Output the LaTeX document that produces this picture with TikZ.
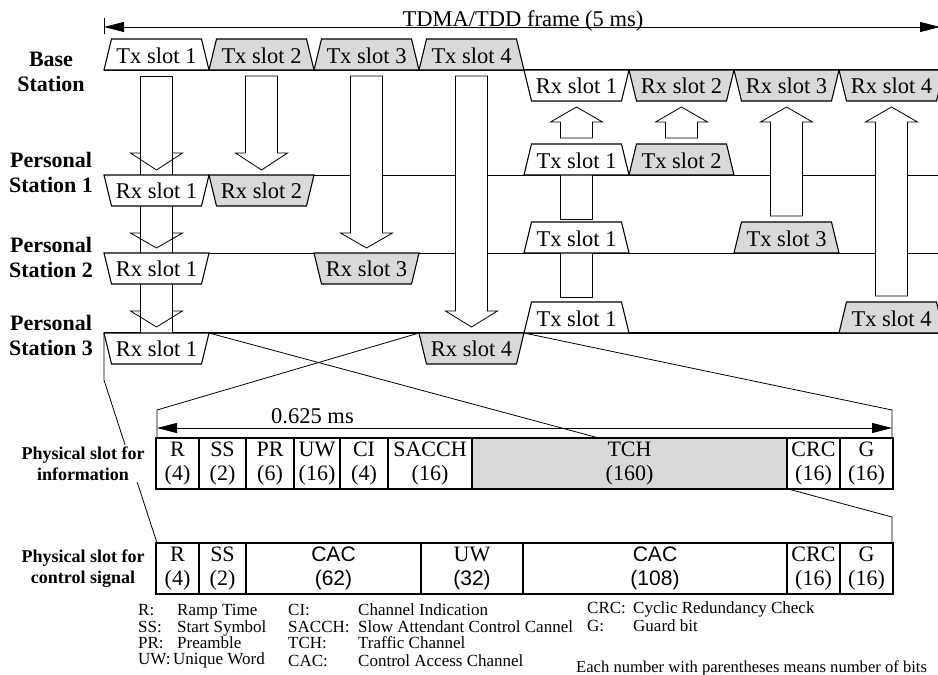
\documentclass[tikz,border=0pt]{standalone}
\usepackage{fontspec}
\setmainfont{Liberation Serif}
\newfontfamily\sansf{Liberation Sans}
\usetikzlibrary{arrows.meta}
\definecolor{slotgray}{gray}{0.85}
\tikzset{
  slotshape/.style={draw, line width=1.1pt, line join=miter},
  slottext/.style={font=\fontsize{22.5}{24}\selectfont, inner sep=0pt, anchor=base},
  blk/.style={draw, fill=white, line width=0.8pt, line join=miter},
  blkline/.style={draw, line width=0.8pt, line join=miter},
  thickst/.style={line width=1.4pt},
  thinst/.style={line width=0.8pt},
  zl/.style={line width=0.8pt},
  dimarrow/.style={line width=0.8pt, {Triangle[length=20pt,width=10pt]}-{Triangle[length=20pt,width=10pt]}},
  bigtext/.style={font=\fontsize{22.5}{24}\selectfont, inner sep=0pt},
  stlabel/.style={font=\fontsize{22}{24.5}\selectfont\bfseries, align=center, inner sep=0pt},
  tablabel/.style={font=\fontsize{18}{21}\selectfont\bfseries, align=center, inner sep=2pt, fill=white},
  cellbox/.style={draw, line width=1.2pt},
  celltext/.style={font=\fontsize{22}{23.5}\selectfont, align=center, inner sep=0pt},
  celltextsf/.style={font=\fontsize{21}{23.5}\selectfont\sansf, align=center, inner sep=0pt},
  legend/.style={font=\fontsize{17}{18}\selectfont, inner sep=0pt, anchor=base west},
}
\newcommand\TxSlot[5]{% name, xleft, yline, fill, text
  \path[slotshape, fill=#4] (#2,#3) -- (#2+7.5,#3-31) -- (#2+97.5,#3-31) -- (#2+105,#3) -- cycle;
  \node[slottext] (#1) at (#2+52.5,#3-7) {#5};}
\newcommand\RxSlot[5]{% name, xleft, yline, fill, text
  \path[slotshape, fill=#4] (#2,#3) -- (#2+7.5,#3+31) -- (#2+97.5,#3+31) -- (#2+105,#3) -- cycle;
  \node[slottext] (#1) at (#2+52.5,#3+23.5) {#5};}
\newcommand\BlkArrow[4]{% cx, yshaftend, yhead, ytip
  \path[blk] (#1-16,#2) -- (#1+16,#2) -- (#1+16,#3) -- (#1+26,#3) -- (#1,#4) -- (#1-26,#3) -- (#1-16,#3) -- cycle;}
\newcommand\OpenHead[3]{% cx, yhead, ytip
  \path[blkline] (#1-16,#2) -- (#1-26,#2) -- (#1,#3) -- (#1+26,#2) -- (#1+16,#2);}
\newcommand\Cell[7]{% name x1 x2 y1 y2 fill text
  \path[cellbox, fill=#6] (#2,#4) rectangle (#3,#5);
  \node[celltext] (#1) at ({(#2+#3)/2},{(#4+#5)/2}) {#7};}

\begin{document}
\begin{tikzpicture}[x=1pt,y=-1pt]
\useasboundingbox (0,0) rectangle (938,675);

% ---- frame dimension ----
\coordinate (fl) at (104,27);
\coordinate (fr) at (940,27);
\draw[dimarrow] (fl) -- (fr);
\draw[thinst] (104,18) -- (104,34);
\draw[thinst] (940,18) -- (940,34);
\node[bigtext, anchor=base] (tdma) at (523,26) {TDMA/TDD frame (5 ms)};

% ---- station lines ----
\draw[thickst] (104,70) -- (944,70);
\draw[thinst] (104,175) -- (944,175);
\draw[thinst] (104,253) -- (944,253);
\draw[thickst] (104,333) -- (944,333);

% ---- zoom lines ----
\coordinate (z1) at (104,333);
\coordinate (z2) at (209,333);
\coordinate (z3) at (419,333);
\coordinate (z4) at (524,333);
\coordinate (ia) at (157,410);
\coordinate (ib) at (892,410);
\coordinate (ic) at (157,438);
\coordinate (id) at (892,438);
\coordinate (ca) at (157,543);
\coordinate (cb) at (892,543);
\draw[zl] (z1) -- (104,380) -- (ca);
\draw[zl] (z2) -- (892,517) -- (cb);
\draw[zl] (z3) -- (ia) -- (ic);
\draw[zl] (z4) -- (ib) -- (id);

% ---- block arrows (down) ----
\path[blk] (140.5,76) rectangle (172.5,333);
\OpenHead{156.5}{153}{170}
\OpenHead{156.5}{233}{248}
\OpenHead{156.5}{311}{327}
\BlkArrow{261.5}{76}{153}{170}
\BlkArrow{366.5}{76}{233}{248}
\BlkArrow{471.5}{76}{311}{327}
% ---- block arrows (up) ----
\path[blk] (560.5,297) rectangle (592.5,240);
\path[blk] (560.5,219) rectangle (592.5,160);
\BlkArrow{576.5}{138}{122}{107}
\BlkArrow{681.5}{138}{122}{107}
\BlkArrow{786.5}{216}{122}{107}
\BlkArrow{891.5}{296}{122}{107}

% ---- base station slots ----
\TxSlot{bt1}{104}{70}{white}{Tx slot 1}
\TxSlot{bt2}{209}{70}{slotgray}{Tx slot 2}
\TxSlot{bt3}{314}{70}{slotgray}{Tx slot 3}
\TxSlot{bt4}{419}{70}{slotgray}{Tx slot 4}
\RxSlot{br1}{524}{70}{white}{Rx slot 1}
\RxSlot{br2}{629}{70}{slotgray}{Rx slot 2}
\RxSlot{br3}{734}{70}{slotgray}{Rx slot 3}
\RxSlot{br4}{839}{70}{slotgray}{Rx slot 4}
% ---- PS1 ----
\RxSlot{p1r1}{104}{175}{white}{Rx slot 1}
\RxSlot{p1r2}{209}{175}{slotgray}{Rx slot 2}
\TxSlot{p1t1}{524}{175}{white}{Tx slot 1}
\TxSlot{p1t2}{629}{175}{slotgray}{Tx slot 2}
% ---- PS2 ----
\RxSlot{p2r1}{104}{253}{white}{Rx slot 1}
\RxSlot{p2r3}{314}{253}{slotgray}{Rx slot 3}
\TxSlot{p2t1}{524}{253}{white}{Tx slot 1}
\TxSlot{p2t3}{734}{253}{slotgray}{Tx slot 3}
% ---- PS3 ----
\RxSlot{p3r1}{104}{333}{white}{Rx slot 1}
\RxSlot{p3r4}{419}{333}{slotgray}{Rx slot 4}
\TxSlot{p3t1}{524}{333}{white}{Tx slot 1}
\TxSlot{p3t4}{839}{333}{slotgray}{Tx slot 4}

% ---- station labels ----
\node[stlabel] (bs) at (51,72) {Base\\Station};
\node[stlabel] (ps1) at (51,172.5) {Personal\\Station 1};
\node[stlabel] (ps2) at (51,257.5) {Personal\\Station 2};
\node[stlabel] (ps3) at (51,335.5) {Personal\\Station 3};

% ---- slot dimension ----
\draw[dimarrow] (157,428) -- (892,428);
\node[bigtext, anchor=base] (slotlen) at (312.5,423) {0.625 ms};

% ---- information slot ----
\Cell{iR}{156}{199}{438}{489}{white}{R\\(4)}
\Cell{iSS}{199}{246}{438}{489}{white}{SS\\(2)}
\Cell{iPR}{246}{294}{438}{489}{white}{PR\\(6)}
\Cell{iUW}{294}{340}{438}{489}{white}{UW\\(16)}
\Cell{iCI}{340}{388}{438}{489}{white}{CI\\(4)}
\Cell{iSA}{388}{472}{438}{489}{white}{SACCH\\(16)}
\Cell{iTCH}{472}{787}{438}{489}{slotgray}{TCH\\(160)}
\Cell{iCRC}{787}{840}{438}{489}{white}{CRC\\(16)}
\Cell{iG}{840}{893}{438}{489}{white}{G\\(16)}
\node[tablabel] (infolbl) at (83,463.5) {Physical slot for\\information};

% ---- control slot ----
\Cell{cR}{156}{199}{543}{594}{white}{R\\(4)}
\Cell{cSS}{199}{246}{543}{594}{white}{SS\\(2)}
\path[cellbox] (246,543) rectangle (421,594);
\node[celltextsf] (cCAC1) at (333.5,568.5) {CAC\\(62)};
\Cell{cUW}{421}{523}{543}{594}{white}{UW\\\sansf\fontsize{21}{23.5}\selectfont (32)}
\path[cellbox] (523,543) rectangle (787,594);
\node[celltextsf] (cCAC2) at (655,568.5) {CAC\\(108)};
\Cell{cCRC}{787}{840}{543}{594}{white}{CRC\\(16)}
\Cell{cG}{840}{893}{543}{594}{white}{G\\(16)}
\node[tablabel] (ctrllbl) at (83,569) {Physical slot for\\control signal};

% ---- legend ----
\node[legend] (l1a) at (138,615) {R:};
\node[legend] (l1b) at (177,615) {Ramp Time};
\node[legend] (l2a) at (138,632) {SS:};
\node[legend] (l2b) at (177,632) {Start Symbol};
\node[legend] (l3a) at (138,648) {PR:};
\node[legend] (l3b) at (177,648) {Preamble};
\node[legend] (l4a) at (138,664) {UW:};
\node[legend] (l4b) at (173,664) {Unique Word};
\node[legend] (m1a) at (288,615) {CI:};
\node[legend] (m1b) at (358,615) {Channel Indication};
\node[legend] (m2a) at (288,632) {SACCH:};
\node[legend] (m2b) at (358,632) {Slow Attendant Control Cannel};
\node[legend] (m3a) at (288,648) {TCH:};
\node[legend] (m3b) at (358,648) {Traffic Channel};
\node[legend] (m4a) at (288,666) {CAC:};
\node[legend] (m4b) at (358,666) {Control Access Channel};
\node[legend] (n1a) at (587,613) {CRC:};
\node[legend] (n1b) at (633,613) {Cyclic Redundancy Check};
\node[legend] (n2a) at (587,631) {G:};
\node[legend] (n2b) at (633,631) {Guard bit};
\node[legend, font=\fontsize{16.6}{18}\selectfont] (note) at (576,672) {Each number with parentheses means number of bits};
\end{tikzpicture}
\end{document}
